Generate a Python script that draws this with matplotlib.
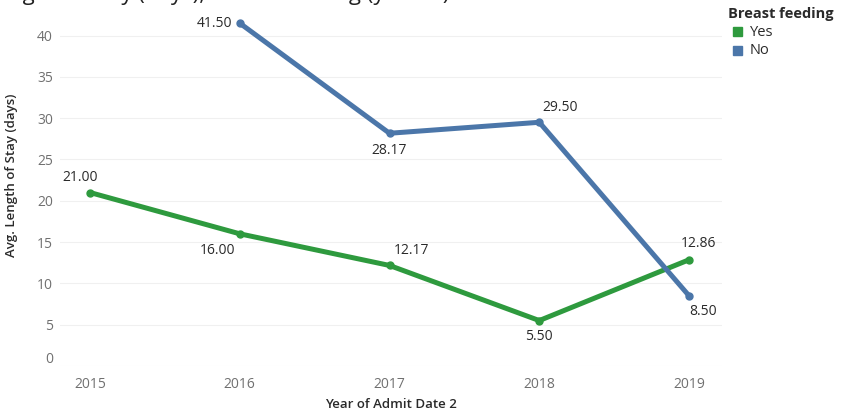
import matplotlib
matplotlib.use("Agg")
import matplotlib.pyplot as plt
import matplotlib.transforms as mtransforms
from matplotlib.patches import Rectangle

years = [2015, 2016, 2017, 2018, 2019]
yes_values = [21.00, 16.00, 12.17, 5.50, 12.86]
no_years = [2016, 2017, 2018, 2019]
no_values = [41.50, 28.17, 29.50, 8.50]
y_ticks = [0, 5, 10, 15, 20, 25, 30, 35, 40]

GREEN = "#2e9a3e"
BLUE = "#4b76a9"
TEXT = "#2a2a2a"
TICK = "#707070"
FONT = "Open Sans"

W, H = 845, 415
fig = plt.figure(figsize=(W / 100, H / 100), dpi=100)
fig.patch.set_facecolor("white")

# plot area in pixel terms
left_px, right_px, bottom_px, top_px = 60, 722, 366, 0
ax = fig.add_axes([left_px / W, (H - bottom_px) / H,
                   (right_px - left_px) / W, (bottom_px - top_px) / H])
ax.set_facecolor("white")
ax.set_xlim(2014.8, 2019.22)
ax.set_ylim(0, 44.3)

for s in ax.spines.values():
    s.set_visible(False)

ax.set_yticks(y_ticks)
ax.set_xticks(years)
ax.set_xticklabels([str(y) for y in years])
ax.tick_params(axis="both", length=0, colors=TICK, labelsize=10)
ax.tick_params(axis="y", pad=5)
ax.tick_params(axis="x", pad=8)
for lab in ax.get_xticklabels() + ax.get_yticklabels():
    lab.set_fontfamily(FONT)
    lab.set_color(TICK)
# nudge the bottom y label inside the view
zero_lab = ax.get_yticklabels()[0]
zero_lab.set_transform(zero_lab.get_transform() +
                       mtransforms.ScaledTranslation(0, 9 / 100, fig.dpi_scale_trans))

ax.grid(axis="y", color="#f0f0f0", linewidth=0.8)
ax.set_axisbelow(True)

ax.plot(years, yes_values, color=GREEN, linewidth=3.6, solid_capstyle="round",
        marker="o", markersize=5, zorder=3)
ax.plot(no_years, no_values, color=BLUE, linewidth=3.6, solid_capstyle="round",
        marker="o", markersize=5, zorder=3)

def label(x, y, dx, dy, ha="center"):
    ax.annotate(f"{y:.2f}", (x, y), xytext=(dx, dy), textcoords="offset pixels",
                ha=ha, va="center", fontsize=10, color=TEXT, fontfamily=FONT)

# Yes series labels
label(2015, 21.00, -10, 15)
label(2016, 16.00, -22, -17)
label(2017, 12.17, 22, 15)
label(2018, 5.50, 0, -16)
label(2019, 12.86, 9, 16)
# No series labels
label(2016, 41.50, -7, 0, ha="right")
label(2017, 28.17, 0, -17)
label(2018, 29.50, 21, 15)
label(2019, 8.50, 14, -16)

ax.set_xlabel("Year of Admit Date 2", fontsize=9.5, fontweight="semibold",
              color=TEXT, fontfamily=FONT, labelpad=4)
ax.set_ylabel("Avg. Length of Stay (days)", fontsize=9.5, fontweight="semibold",
              color=TEXT, fontfamily=FONT)
ax.yaxis.set_label_coords(-42 / (right_px - left_px), 0.52)

# caption above the chart, mostly outside the canvas
fig.text(-64 / W, 1 + 0.5 / H, "Avg. Length of Stay (days), Breast feeding (yes/no)",
         fontsize=16, color="#222222", fontfamily=FONT, ha="left", va="baseline")

# legend
fig.text(728 / W, 1 - 14 / H, "Breast feeding", fontsize=10.5, fontweight="bold",
         color=TEXT, fontfamily=FONT, ha="left", va="center")
for i, (name, col) in enumerate([("Yes", GREEN), ("No", BLUE)]):
    yc = 32 + i * 19
    fig.patches.append(Rectangle((733 / W, 1 - (yc + 4.5) / H), 9 / W, 9 / H,
                                 transform=fig.transFigure, color=col))
    fig.text(750 / W, 1 - yc / H, name, fontsize=10.5, color=TEXT,
             fontfamily=FONT, ha="left", va="center")

fig.savefig("out.png", dpi=100, facecolor="white")
